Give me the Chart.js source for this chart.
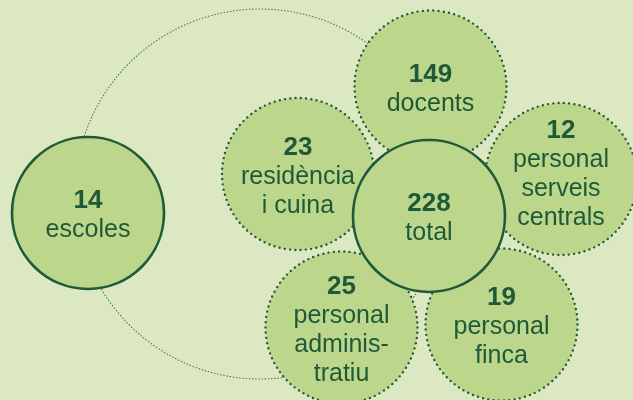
<!DOCTYPE html>
<html>
<head>
<meta charset="utf-8">
<script src="https://cdn.jsdelivr.net/npm/chart.js@4"></script>
<style>
  html, body { margin: 0; padding: 0; background: #dce8c2; }
  #wrap { width: 633px; height: 400px; position: relative; }
</style>
</head>
<body>
<div id="wrap"><canvas id="staffChart"></canvas></div>
<script>
// Data
const categories = ['escoles', 'docents', 'residència i cuina', 'personal serveis centrals', 'personal administratiu', 'personal finca', 'total'];
const values = [14, 149, 23, 12, 25, 19, 228];
const labelLines = [
  ['escoles'],
  ['docents'],
  ['residència', 'i cuina'],
  ['personal', 'serveis', 'centrals'],
  ['personal', 'adminis-', 'tratiu'],
  ['personal', 'finca'],
  ['total']
];

// Layout (diagram positions, in px of the 633x400 frame)
const centerX = [88, 430.5, 298, 561, 341.5, 501.5, 429];
const centerY = [213, 86.5, 174, 179, 327.5, 324.5, 216];
const textShift = [0, 0, 0, -7.5, 0, 0, 0];
const bubbleR = 76;
const solidIdx = [0, 6];
const dottedIdx = [1, 2, 3, 4, 5];

const dark = '#1e5a3a';
const fill = '#bcd68b';

function pts(idx) {
  return idx.map(i => ({ x: centerX[i], y: centerY[i], r: bubbleR, i: i }));
}

// dotted line style per dataset
const dashPlugin = {
  id: 'dash',
  beforeDatasetDraw(chart, args) {
    const ds = chart.data.datasets[args.index];
    if (ds.dash) {
      chart.ctx.save();
      chart.ctx.setLineDash(ds.dash);
      chart.ctx.lineCap = 'round';
    }
  },
  afterDatasetDraw(chart, args) {
    const ds = chart.data.datasets[args.index];
    if (ds.dash) chart.ctx.restore();
  }
};

// number + label inside every bubble
const textPlugin = {
  id: 'bubbleText',
  afterDatasetsDraw(chart) {
    const ctx = chart.ctx;
    ctx.save();
    ctx.fillStyle = dark;
    ctx.textAlign = 'center';
    ctx.textBaseline = 'alphabetic';
    [0, 1].forEach(d => {
      const meta = chart.getDatasetMeta(d);
      meta.data.forEach((el, j) => {
        const i = chart.data.datasets[d].data[j].i;
        const lines = [String(values[i])].concat(labelLines[i]);
        const n = lines.length;
        lines.forEach((txt, k) => {
          const y = el.y + 9.5 + textShift[i] + (k - (n - 1) / 2) * 29;
          ctx.font = k === 0 ? 'bold 26px "Liberation Sans", Arial, sans-serif' : '25px "Liberation Sans", Arial, sans-serif';
          ctx.fillText(txt, el.x, y);
        });
      });
    });
    ctx.restore();
  }
};

new Chart(document.getElementById('staffChart'), {
  type: 'bubble',
  data: {
    datasets: [
      {
        label: 'solid',
        data: pts(solidIdx),
        backgroundColor: fill,
        borderColor: dark,
        borderWidth: 2.6,
        clip: false
      },
      {
        label: 'dotted',
        data: pts(dottedIdx),
        backgroundColor: fill,
        borderColor: dark,
        borderWidth: 2.4,
        dash: [0, 5.3],
        clip: false
      },
      {
        label: 'ring',
        data: [{ x: 260, y: 194, r: 185 }],
        backgroundColor: 'rgba(0,0,0,0)',
        borderColor: 'rgba(30,90,58,0.8)',
        borderWidth: 1.1,
        dash: [0.6, 2.6],
        clip: false
      }
    ]
  },
  options: {
    responsive: true,
    maintainAspectRatio: false,
    animation: false,
    layout: { padding: 0, autoPadding: false },
    plugins: {
      legend: { display: false },
      tooltip: { enabled: false }
    },
    events: [],
    scales: {
      x: { type: 'linear', min: 0, max: 633, display: false },
      y: { type: 'linear', min: 0, max: 400, reverse: true, display: false }
    }
  },
  plugins: [dashPlugin, textPlugin]
});
</script>
</body>
</html>
